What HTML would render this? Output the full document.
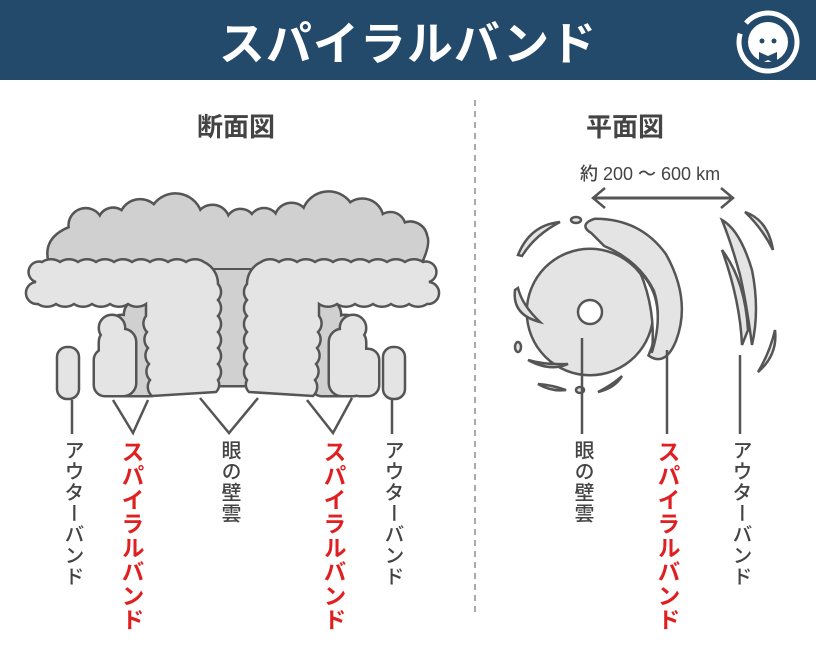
<!DOCTYPE html>
<html><head><meta charset="utf-8"><style>
body{margin:0;width:816px;height:646px;overflow:hidden;background:#fff;font-family:"Liberation Sans","Noto Sans CJK JP",sans-serif}
.hdr{position:absolute;left:0;top:0;width:816px;height:80px;background:#234a6b}
.title{position:absolute;left:0;width:816px;top:8px;text-align:center;color:#fff;font-size:46px;font-weight:bold;letter-spacing:1px}
.v{position:absolute;writing-mode:vertical-rl;font-size:20px;color:#444;line-height:1;font-weight:500;letter-spacing:1px}
.r{color:#e02020;font-weight:bold;font-size:23px}
.h{position:absolute;font-size:26px;font-weight:bold;color:#444}
</style></head><body>
<div class="hdr"></div>
<div class="title">スパイラルバンド</div>
<svg style="position:absolute;left:0;top:0" width="816" height="646">
<defs>
<path id="top" d="M52 268 Q40 240 70 228 a16 16 0 0 1 30 -10 a14 14 0 0 1 22 -6 a20 20 0 0 1 32 -6 a26 26 0 0 1 46 6 a16 16 0 0 1 28 6 a14 14 0 0 1 24 -2 a14 14 0 0 1 24 0 a16 16 0 0 1 28 -6 a26 26 0 0 1 46 -6 a20 20 0 0 1 32 12 a14 14 0 0 1 22 8 a16 16 0 0 1 22 12 Q430 245 418 268 Z"/>
<path id="arm" d="M36 282 a10 10 0 0 1 6 -20 a16 16 0 0 1 18 0 a16 16 0 0 1 18 0 a16 16 0 0 1 18 0 a16 16 0 0 1 18 0 a16 16 0 0 1 18 0 a16 16 0 0 1 18 0 a16 16 0 0 1 18 0 a16 16 0 0 1 18 0 a16 16 0 0 1 18 0 a24 24 0 0 1 14 22 a12 12 0 0 1 0 16 a12 12 0 0 1 0 16 a12 12 0 0 1 0 16 a12 12 0 0 1 0 16 a12 12 0 0 1 0 16 a12 12 0 0 1 0 16 a10 10 0 0 1 -2 12 L152 396 a12 12 0 0 1 -2 -16 a12 12 0 0 1 -1 -16 a12 12 0 0 1 -1 -16 a12 12 0 0 1 -1 -16 a12 12 0 0 1 -1 -16 L146 304 a16 16 0 0 1 -18 0 a16 16 0 0 1 -18 0 a16 16 0 0 1 -18 0 a16 16 0 0 1 -18 0 a16 16 0 0 1 -18 0 a16 16 0 0 1 -18 0 a11 11 0 0 1 -2 -22 Z"/>
</defs>
<g transform="translate(768,42)">
<circle r="29" fill="none" stroke="#fff" stroke-width="5" stroke-dasharray="150 12" transform="rotate(-100)"/>
<circle r="20" fill="#fff"/><circle cx="-6" cy="-1" r="2.5" fill="#234a6b"/><circle cx="6" cy="-1" r="2.5" fill="#234a6b"/>
<path d="M-9 10 L0 14 L9 10 L9 22 L0 18 L-9 22Z" fill="#234a6b"/>
</g>
<line x1="475" y1="100" x2="475" y2="612" stroke="#aaa" stroke-width="2" stroke-dasharray="6 5"/>
<g stroke="#555" stroke-width="5">
<use href="#top"/>
<path d="M140 270 L330 270 L270 385 L200 385Z"/>
<circle cx="122" cy="330" r="14"/><rect x="110" y="320" width="50" height="75" rx="10"/><circle cx="140" cy="315" r="15"/>
<rect x="312" y="320" width="50" height="75" rx="10"/><circle cx="325" cy="315" r="15"/><circle cx="345" cy="330" r="14"/>
</g>
<g fill="#d0d0d0">
<use href="#top"/>
<path d="M140 270 L330 270 L270 385 L200 385Z"/>
<circle cx="122" cy="330" r="14"/><rect x="110" y="320" width="50" height="75" rx="10"/><circle cx="140" cy="315" r="15"/>
<rect x="312" y="320" width="50" height="75" rx="10"/><circle cx="325" cy="315" r="15"/><circle cx="345" cy="330" r="14"/>
</g>
<g stroke="#555" stroke-width="5"><circle cx="112" cy="328" r="12"/><rect x="100" y="330" width="35" height="65" rx="12"/><circle cx="353" cy="328" r="12"/><rect x="330" y="330" width="35" height="65" rx="12"/>
<rect x="95" y="350" width="28" height="45" rx="10"/><rect x="350" y="350" width="28" height="45" rx="10"/></g>
<g fill="#e4e4e4"><circle cx="112" cy="328" r="12"/><rect x="100" y="330" width="35" height="65" rx="12"/><circle cx="353" cy="328" r="12"/><rect x="330" y="330" width="35" height="65" rx="12"/>
<rect x="95" y="350" width="28" height="45" rx="10"/><rect x="350" y="350" width="28" height="45" rx="10"/></g>
<g fill="#e4e4e4" stroke="#555" stroke-width="2.5">
<rect x="57" y="347" width="22" height="52" rx="10"/><rect x="383" y="347" width="22" height="52" rx="10"/>
<use href="#arm"/>
<use href="#arm" transform="translate(465,0) scale(-1,1)"/>
</g>
<g fill="none" stroke="#555" stroke-width="2.5">
<line x1="72" y1="400" x2="72" y2="434"/>
<line x1="392" y1="400" x2="392" y2="434"/>
<path d="M113 400 L133 433 L148 400"/>
<path d="M200 398 L229 433 L258 398"/>
<path d="M307 400 L333 433 L352 398"/>
</g>
<g stroke="#555" stroke-width="5">
<circle cx="590" cy="312" r="62"/>
<path d="M592 232 Q580 225 595 220 Q640 220 665 255 Q690 300 675 340 Q665 365 650 355 Q665 320 655 290 Q640 260 605 245Z"/>
</g>
<g fill="#e4e4e4">
<circle cx="590" cy="312" r="62"/>
<path d="M592 232 Q580 225 595 220 Q640 220 665 255 Q690 300 675 340 Q665 365 650 355 Q665 320 655 290 Q640 260 605 245Z"/>
</g>
<path d="M640 272 Q668 300 652 352 Q656 310 640 272Z" fill="#fff" stroke="#555" stroke-width="2.5" stroke-linejoin="round"/>
<g fill="#e4e4e4" stroke="#555" stroke-width="2.5">
<path d="M518 255 Q530 225 560 222 Q535 235 522 256Z"/>
<path d="M515 290 Q512 315 540 322 Q522 305 518 288Z"/>
<path d="M528 360 Q550 372 568 364 Q545 365 528 360Z"/>
<path d="M538 384 Q552 392 566 390 Q552 385 538 384Z"/>
<path d="M598 392 Q615 388 622 376 Q612 385 598 392Z"/>
<path d="M722 220 Q740 230 752 270 Q760 310 752 345 Q746 300 740 275 Q732 245 722 220Z"/>
<path d="M722 250 Q745 280 748 330 L742 345 Q740 300 722 250Z"/>
<path d="M745 212 Q768 220 773 250 Q762 228 745 212Z"/>
<path d="M775 330 Q778 355 758 372 Q770 352 775 330Z"/>
<ellipse cx="576" cy="220" rx="5" ry="3"/><ellipse cx="518" cy="347" rx="3" ry="5"/><ellipse cx="580" cy="390" rx="4" ry="3"/>
</g>
<circle cx="590" cy="312" r="12" fill="#fff" stroke="#555" stroke-width="2.5"/>
<g stroke="#555" stroke-width="2.5" fill="none">
<line x1="582" y1="338" x2="582" y2="434"/>
<line x1="667" y1="350" x2="667" y2="434"/>
<line x1="740" y1="355" x2="740" y2="434"/>
<line x1="593" y1="198" x2="733" y2="198" stroke-width="3"/>
<path d="M605 188 L593 198 L605 208"/><path d="M721 188 L733 198 L721 208"/>
</g>
</svg>
<div class="h" style="left:197px;top:107px">断面図</div>
<div class="h" style="left:586px;top:107px">平面図</div>
<div style="position:absolute;left:580px;top:160px;font-size:18px;color:#444;font-weight:500">約 200 〜 600 km</div>
<div class="v" style="left:62px;top:440px">アウターバンド</div>
<div class="v r" style="left:119px;top:440px">スパイラルバンド</div>
<div class="v" style="left:219px;top:440px">眼の壁雲</div>
<div class="v r" style="left:321px;top:440px">スパイラルバンド</div>
<div class="v" style="left:382px;top:440px">アウターバンド</div>
<div class="v" style="left:572px;top:440px">眼の壁雲</div>
<div class="v r" style="left:655px;top:440px">スパイラルバンド</div>
<div class="v" style="left:730px;top:440px">アウターバンド</div>
</body></html>
